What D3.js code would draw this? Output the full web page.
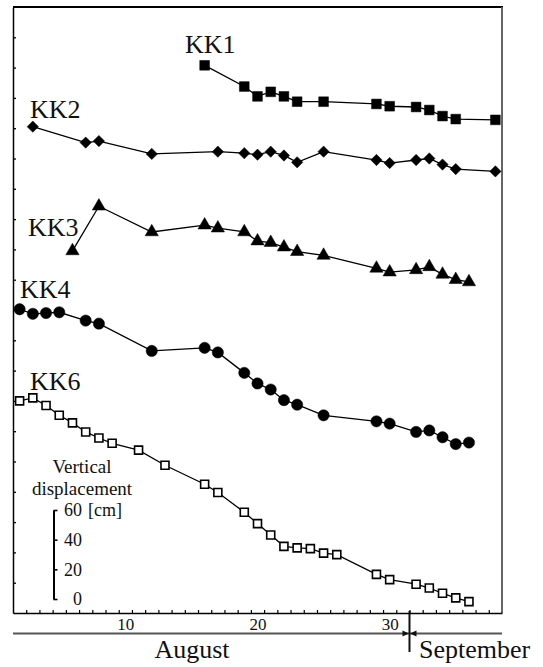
<!DOCTYPE html>
<html>
<head>
<meta charset="utf-8">
<script src="https://cdn.jsdelivr.net/npm/d3@7"></script>
<style>
  body { margin: 0; background: #fff; }
</style>
</head>
<body>
<script>
// days counted from 1 August (32 = 1 September)
const days1 = [16, 19, 20, 21, 22, 23, 25, 29, 30, 32, 33, 34, 35, 38];
const kk1 = [361.5, 347.5, 341, 344, 341, 337.5, 337.5, 336, 334.5, 334, 332, 328, 326, 325.5];

const days2 = [3, 7, 8, 12, 17, 19, 20, 21, 22, 23, 25, 29, 30, 32, 33, 34, 35, 38];
const kk2 = [321, 310.5, 311.5, 303, 304.5, 303.5, 302.5, 304.5, 302, 297.5, 304.5, 299, 297, 299, 300, 296, 293, 291.5];

const days3 = [6, 8, 12, 16, 17, 19, 20, 21, 22, 23, 25, 29, 30, 32, 33, 34, 35, 36];
const kk3 = [239, 268.5, 251.5, 256, 254, 251.5, 245.5, 244.5, 241.5, 238.5, 236, 227.5, 225, 226.5, 228.5, 223.5, 220, 218.5];

const days4 = [2, 3, 4, 5, 7, 8, 12, 16, 17, 19, 20, 21, 22, 23, 25, 29, 30, 32, 33, 34, 35, 36];
const kk4 = [200.5, 197.5, 198, 198.5, 193, 191, 173, 175, 172, 158.5, 151.5, 147.5, 140.5, 137.5, 130.5, 126.5, 125, 119.5, 120.5, 116, 111.5, 112.5];

const days6 = [2, 3, 4, 5, 6, 7, 8, 9, 11, 13, 16, 17, 19, 20, 21, 22, 23, 24, 25, 26, 29, 30, 32, 33, 34, 35, 36];
const kk6 = [140, 142, 137, 130.5, 125.5, 119.5, 115.5, 112, 107.5, 97.5, 85, 79.5, 66.5, 59, 51.5, 44, 43, 42.5, 39.5, 38.5, 25.5, 22, 19, 16.5, 13, 10, 7.5];

const dayLabels = [10, 20, 30];
const scaleBarTicks = [0, 20, 40, 60];
const monthNames = ["August", "September"];

const WIDTH = 543;
const HEIGHT = 667;
const frame = { left: 13, right: 502, top: 7, bottom: 613 };
const SERIF = "'Liberation Serif', 'Times New Roman', Times, 'DejaVu Serif', 'Noto Serif', serif";

const svg = d3.select("body").append("svg")
  .attr("width", WIDTH)
  .attr("height", HEIGHT)
  .attr("font-family", SERIF);

// escalas
const x = d3.scaleLinear().domain([1.5, 38.5]).range([frame.left, frame.right]);
const y = d3.scaleLinear().domain([0, 400]).range([frame.bottom, frame.top]);

// marcos del grafico
svg.append("line")
  .attr("x1", frame.left).attr("x2", frame.right + 1)
  .attr("y1", frame.top).attr("y2", frame.top)
  .attr("stroke", "#000").attr("stroke-width", 2.2);
svg.append("line")
  .attr("x1", frame.right).attr("x2", frame.right)
  .attr("y1", frame.top).attr("y2", frame.bottom)
  .attr("stroke", "#555").attr("stroke-width", 1.8);

// eje izquierdo (marcas hacia adentro, sin texto)
svg.append("g")
  .attr("transform", `translate(${frame.left},0)`)
  .call(d3.axisRight(y).tickValues(d3.range(20, 400, 20)).tickSize(3).tickFormat("").tickSizeOuter(0))
  .call(g => g.select(".domain").attr("stroke-width", 1.5))
  .call(g => g.selectAll(".tick line").attr("stroke-width", 1.3));

// eje inferior: marcas en los limites de cada dia
svg.append("g")
  .attr("transform", `translate(0,${frame.bottom})`)
  .call(d3.axisBottom(x).tickValues(d3.range(2.5, 38, 1)).tickSizeInner(-3).tickSizeOuter(0).tickFormat(""))
  .call(g => g.select(".domain").attr("stroke-width", 1.4))
  .call(g => g.selectAll(".tick line").attr("stroke-width", 1.2));

// etiquetas de dias
svg.append("g")
  .attr("transform", `translate(0,${frame.bottom})`)
  .call(d3.axisBottom(x).tickValues(dayLabels).tickSize(0))
  .attr("font-family", SERIF)
  .attr("font-size", 17)
  .call(g => g.select(".domain").remove())
  .call(g => g.selectAll("text")
    .attr("dy", null).attr("y", 16.5)
    .attr("fill", "#111"));

// linea de meses
const monthY = 633.5;
svg.append("line")
  .attr("x1", frame.left).attr("x2", frame.right)
  .attr("y1", monthY).attr("y2", monthY)
  .attr("stroke", "#555").attr("stroke-width", 2);

const splitX = x(31.5);
svg.append("line")
  .attr("x1", splitX).attr("x2", splitX)
  .attr("y1", frame.bottom - 2).attr("y2", 652)
  .attr("stroke", "#111").attr("stroke-width", 2);
svg.append("path")
  .attr("d", `M${splitX - 7},${monthY - 3}L${splitX - 0.5},${monthY}L${splitX - 7},${monthY + 3}Z`)
  .attr("fill", "#111");
svg.append("path")
  .attr("d", `M${splitX + 7},${monthY - 3}L${splitX + 0.5},${monthY}L${splitX + 7},${monthY + 3}Z`)
  .attr("fill", "#111");

svg.append("text")
  .attr("x", 192).attr("y", 658)
  .attr("text-anchor", "middle")
  .attr("font-size", 26)
  .attr("fill", "#111")
  .text(monthNames[0]);
svg.append("text")
  .attr("x", 419).attr("y", 658)
  .attr("font-size", 26)
  .attr("fill", "#111")
  .text(monthNames[1]);

// series
const series = [
  { name: "KK1", days: days1, values: kk1, shape: d3.symbolSquare, size: 95, rot: 0, fill: "#000", lx: 185, ly: 53 },
  { name: "KK2", days: days2, values: kk2, shape: d3.symbolSquare, size: 64, rot: 45, fill: "#000", lx: 30, ly: 118 },
  { name: "KK3", days: days3, values: kk3, shape: d3.symbolTriangle, size: 76, rot: 0, fill: "#000", lx: 28, ly: 236 },
  { name: "KK4", days: days4, values: kk4, shape: d3.symbolCircle, size: 100, rot: 0, fill: "#000", lx: 20, ly: 298 },
  { name: "KK6", days: days6, values: kk6, shape: d3.symbolSquare, size: 64, rot: 0, fill: "#fff", lx: 30, ly: 390 }
];

const line = d3.line()
  .x(d => x(d[0]))
  .y(d => y(d[1]));

series.forEach(s => {
  const pts = s.days.map((d, i) => [d, s.values[i]]);
  const g = svg.append("g");

  g.append("path")
    .datum(pts)
    .attr("d", line)
    .attr("fill", "none")
    .attr("stroke", "#000")
    .attr("stroke-width", 1.3);

  g.selectAll("path.mark")
    .data(pts)
    .enter()
    .append("path")
    .attr("class", "mark")
    .attr("d", d3.symbol(s.shape, s.size))
    .attr("transform", d => `translate(${x(d[0])},${y(d[1])}) rotate(${s.rot})`)
    .attr("fill", s.fill)
    .attr("stroke", "#000")
    .attr("stroke-width", s.fill === "#fff" ? 1.6 : 0.5);

  svg.append("text")
    .attr("x", s.lx).attr("y", s.ly)
    .attr("font-size", 26)
    .attr("fill", "#111")
    .text(s.name);
});

// barra de escala vertical
const barX = 53.5;
const barScale = d3.scaleLinear().domain([0, 60]).range([599, 510]);

const bar = svg.append("g").attr("transform", `translate(${barX},0)`);
bar.call(d3.axisRight(barScale).tickValues(scaleBarTicks).tickSize(4).tickSizeOuter(0))
  .attr("font-family", SERIF)
  .attr("font-size", 18)
  .call(g => g.select(".domain").attr("stroke-width", 2))
  .call(g => g.selectAll(".tick line").attr("stroke-width", 1.6))
  .call(g => g.selectAll("text")
    .attr("x", 28.5)
    .attr("text-anchor", "end")
    .attr("fill", "#111"));

svg.append("text")
  .attr("x", 88).attr("y", barScale(60) + 6)
  .attr("font-size", 18)
  .attr("fill", "#111")
  .text("[cm]");

svg.append("text")
  .attr("x", 82).attr("y", 473)
  .attr("text-anchor", "middle")
  .attr("font-size", 19)
  .attr("fill", "#111")
  .text("Vertical");
svg.append("text")
  .attr("x", 82).attr("y", 495)
  .attr("text-anchor", "middle")
  .attr("font-size", 19)
  .attr("fill", "#111")
  .text("displacement");
</script>
</body>
</html>
